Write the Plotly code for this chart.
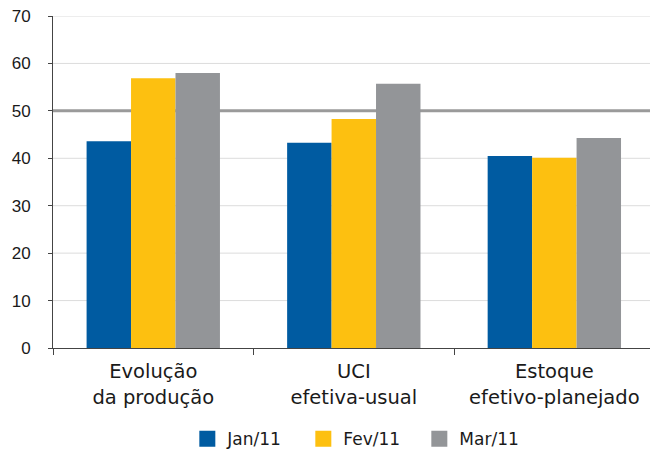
import plotly.graph_objects as go

categories = ["Evolução<br>da produção", "UCI<br>efetiva-usual", "Estoque<br>efetivo-planejado"]
series_names = ["Jan/11", "Fev/11", "Mar/11"]
jan_values = [43.6, 43.3, 40.5]
fev_values = [56.9, 48.3, 40.1]
mar_values = [58.0, 55.7, 44.3]
colors = ["#005BA1", "#FDC010", "#939598"]
y_ticks = [0, 10, 20, 30, 40, 50, 60, 70]
ref_level = 50

fig = go.Figure()
for name, vals, col in zip(series_names, [jan_values, fev_values, mar_values], colors):
    fig.add_trace(go.Bar(name=name, x=categories, y=vals, showlegend=False,
                         marker=dict(color=col, line=dict(width=0))))
# legend entries with larger square swatches
for name, col in zip(series_names, colors):
    fig.add_trace(go.Scatter(name=name, x=[categories[0]], y=[None], mode="markers",
                             marker=dict(symbol="square", size=17, color=col), showlegend=True,
                             hoverinfo="skip"))

for v in y_ticks:
    if v in (0, ref_level):
        continue
    fig.add_shape(type="line", xref="paper", x0=0, x1=1, yref="y", y0=v, y1=v,
                  line=dict(color="#dcdcdc", width=1), layer="below")
fig.add_shape(type="line", xref="paper", x0=0, x1=1, yref="y", y0=ref_level, y1=ref_level,
              line=dict(color="#9a9a9a", width=3), layer="below")

fig.update_layout(
    width=650, height=450,
    margin=dict(l=53, r=0, t=16, b=102, autoexpand=False),
    barmode="group", bargap=0.335, bargroupgap=0,
    plot_bgcolor="white", paper_bgcolor="white",
    font=dict(family="DejaVu Sans, sans-serif", color="#1a1a1a"),
    showlegend=True,
    legend=dict(orientation="h", x=0.225, xanchor="left", y=-0.275, yanchor="middle",
                font=dict(size=17), itemsizing="trace", entrywidth=71, entrywidthmode="pixels",
                traceorder="normal"),
)
fig.update_xaxes(
    range=[-0.5, 2.477], automargin=False,
    showline=True, linecolor="#444444", linewidth=1,
    ticks="outside", tickson="boundaries", ticklen=6, tickcolor="#444444",
    tickfont=dict(size=19.5), ticklabelstandoff=6, showgrid=False,
)
fig.update_yaxes(
    range=[0, 70], tickvals=y_ticks, automargin=False,
    showline=True, linecolor="#444444", linewidth=1,
    ticks="outside", ticklen=4, tickcolor="#444444",
    tickfont=dict(size=17, family="Liberation Sans, Arial, sans-serif"), ticklabelstandoff=14,
    showgrid=False, zeroline=False,
)

fig.write_html("out.html", config={"displayModeBar": False},
               post_script="document.body.style.margin='0px';")
